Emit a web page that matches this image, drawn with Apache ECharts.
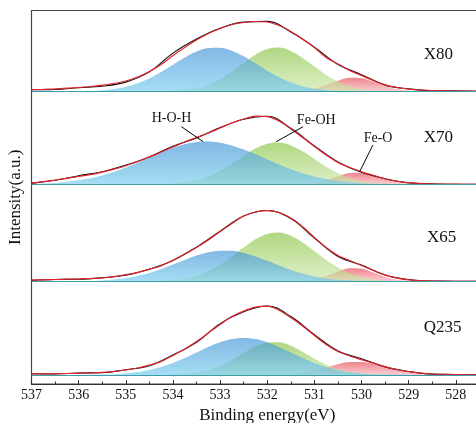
<!DOCTYPE html>
<html>
<head>
<meta charset="utf-8">
<script src="https://cdn.jsdelivr.net/npm/echarts@6/dist/echarts.min.js"></script>
<style>
  html, body { margin: 0; padding: 0; background: #fff; }
  #chart { width: 476px; height: 423px; }
</style>
</head>
<body>
<div id="chart"></div>
<script>
// 结合能 (eV)，拟合曲线和分峰每 0.25 eV 一个点
const energy = [537, 536.75, 536.5, 536.25, 536, 535.75, 535.5, 535.25, 535, 534.75,
  534.5, 534.25, 534, 533.75, 533.5, 533.25, 533, 532.75, 532.5, 532.25,
  532, 531.75, 531.5, 531.25, 531, 530.75, 530.5, 530.25, 530, 529.75,
  529.5, 529.25, 529, 528.75, 528.5, 528.25, 528, 527.75, 527.5, 527.25, 527];
// 原始谱线每 0.5 eV 一个点
const energyRaw = [537, 536.5, 536, 535.5, 535, 534.5, 534, 533.5, 533, 532.5, 532,
  531.5, 531, 530.5, 530, 529.5, 529, 528.5, 528, 527.5, 527];

const samples = ["X80", "X70", "X65", "Q235"];
// 每条谱线的垂直偏移
const offsets = [292.5, 199.5, 102.5, 9];

// X80
const fitX80 = [1.8, 2.2, 2.7, 3.3, 4.0, 5.0, 6.3, 8.0, 10.5, 14.5,
  20, 27, 36, 44, 51.5, 58, 63, 67, 69, 70,
  69.5, 66, 60, 52.5, 44, 34, 27.5, 21, 16, 11,
  6.7, 4, 2.4, 1.5, 1, 0.7, 0.5, 0.4, 0.3, 0.2, 0.2];
const rawX80 = [1.7, 2.0, 3.8, 5.3, 9.4, 19.6, 38.4, 52.5, 63.2, 69.4, 70.1, 59.6, 44.3, 27.1, 16.8, 6.4, 2.6, 0.8, 0.6, 0.2, 0.2];
const hohX80 = [0, 0, 0, 0.1, 0.3, 0.6, 1.3, 2.5, 4.7, 8.2,
  13.1, 19.5, 26.7, 33.9, 39.9, 43.4, 43.7, 40.8, 35.2, 28.2,
  20.8, 14.3, 9.1, 5.3, 2.9, 1.5, 0.7, 0.3, 0.1, 0,
  0, 0, 0, 0, 0, 0, 0, 0, 0, 0, 0];
const feohX80 = [0, 0, 0, 0, 0, 0, 0, 0, 0, 0,
  0.1, 0.2, 0.6, 1.5, 3.4, 6.8, 12.2, 19.7, 28.5, 36.8,
  42.5, 43.9, 40.6, 33.6, 24.9, 16.5, 9.8, 5.2, 2.5, 1.1,
  0.4, 0.1, 0, 0, 0, 0, 0, 0, 0, 0, 0];
const feoX80 = [0, 0, 0, 0, 0, 0, 0, 0, 0, 0,
  0, 0, 0, 0, 0, 0, 0, 0, 0, 0,
  0, 0.1, 0.3, 1.0, 2.9, 6.4, 10.7, 13.7, 13.3, 9.9,
  5.6, 2.4, 0.8, 0.2, 0, 0, 0, 0, 0, 0, 0];

// X70
const fitX70 = [1.2, 2.8, 4.4, 6.2, 8.0, 9.8, 12.3, 15.3, 18.8, 23,
  27.5, 32.5, 37.5, 42.5, 47, 51.5, 56.5, 61.5, 65.5, 68.3,
  67.8, 63.5, 55.5, 47, 38, 29.5, 22, 17, 12.8, 9.2,
  5.5, 3.2, 1.8, 1.0, 0.6, 0.4, 0.3, 0.2, 0.2, 0.1, 0.1];
const rawX70 = [1.4, 4.2, 8.8, 12.7, 19.4, 27.6, 38.3, 46.6, 56.9, 65.2, 68.2, 56.2, 38.6, 22.5, 12.2, 5.8, 1.6, 0.7, 0.2, 0.3, 0.1];
const hohX70 = [0.5, 1.0, 1.6, 2.7, 4.2, 6.3, 9.1, 12.7, 17.1, 21.9,
  27.1, 32.2, 36.8, 40.3, 42.4, 43.0, 41.8, 39.0, 35.0, 30.2,
  25.0, 19.9, 15.2, 11.2, 7.9, 5.4, 3.5, 2.2, 1.3, 0.8,
  0.4, 0.2, 0.1, 0, 0, 0, 0, 0, 0, 0, 0];
const feohX70 = [0, 0, 0, 0, 0, 0, 0, 0, 0, 0,
  0.1, 0.4, 1.0, 2.2, 4.4, 8.1, 13.6, 20.7, 28.6, 35.9,
  40.7, 41.9, 39.1, 33.2, 25.5, 17.7, 11.2, 6.4, 3.3, 1.6,
  0.7, 0.3, 0.1, 0, 0, 0, 0, 0, 0, 0, 0];
const feoX70 = [0, 0, 0, 0, 0, 0, 0, 0, 0, 0,
  0, 0, 0, 0, 0, 0, 0, 0, 0, 0,
  0, 0, 0.1, 0.5, 1.6, 4.2, 8.1, 11.4, 11.7, 8.9,
  4.9, 2.0, 0.6, 0.1, 0, 0, 0, 0, 0, 0, 0];

// X65
const fitX65 = [1.4, 1.7, 2.0, 2.3, 2.6, 3.0, 3.5, 4.8, 6.8, 9.2,
  12.2, 15.8, 21.2, 27.5, 34, 41.5, 50, 58, 65.5, 69.5,
  70.8, 69, 63.5, 54.8, 44, 34, 26, 21, 16, 11.2,
  6.6, 3.3, 1.6, 0.8, 0.4, 0.2, 0.1, 0.1, 0.1, 0.1, 0.1];
const rawX65 = [1.1, 2.0, 2.3, 3.8, 6.2, 12.4, 21.1, 34.4, 50.2, 65.4, 71.0, 63.0, 43.5, 25.1, 16.4, 6.5, 2.0, 0.4, 0.3, 0.1, 0.1];
const hohX65 = [0, 0, 0.1, 0.1, 0.3, 0.5, 1.1, 2.0, 3.4, 5.6,
  8.6, 12.5, 16.9, 21.6, 25.9, 29.2, 30.8, 30.7, 28.6, 25.1,
  20.7, 16.0, 11.6, 7.9, 5.1, 3.1, 1.7, 0.9, 0.5, 0.2,
  0.1, 0, 0, 0, 0, 0, 0, 0, 0, 0, 0];
const feohX65 = [0, 0, 0, 0, 0, 0, 0, 0, 0, 0,
  0.2, 0.6, 1.3, 2.9, 5.7, 10.3, 16.8, 25.1, 34.0, 42.2,
  47.6, 48.9, 45.8, 39.1, 30.4, 21.6, 14.0, 8.2, 4.4, 2.2,
  1.0, 0.4, 0.1, 0, 0, 0, 0, 0, 0, 0, 0];
const feoX65 = [0, 0, 0, 0, 0, 0, 0, 0, 0, 0,
  0, 0, 0, 0, 0, 0, 0, 0, 0, 0,
  0, 0, 0.2, 0.7, 2.3, 5.5, 10.0, 13.2, 12.8, 9.1,
  4.8, 1.8, 0.5, 0.1, 0, 0, 0, 0, 0, 0, 0];

// Q235
const fitQ235 = [1.0, 1.1, 1.3, 1.5, 1.8, 2.1, 2.6, 3.5, 5.0, 7.0,
  9.8, 13.5, 19.5, 26, 33.5, 42, 50.5, 58.5, 64, 67.8,
  68.8, 64.8, 57.5, 49, 39.5, 30.5, 23.5, 19, 15.3, 11.8,
  8.4, 5.5, 3.3, 1.9, 1.0, 0.6, 0.4, 0.3, 0.2, 0.1, 0.1];
const rawQ235 = [1.2, 1.1, 2.0, 2.3, 5.3, 9.2, 19.9, 32.6, 51.4, 63.2, 69.0, 58.5, 40.4, 24.1, 16.3, 8.1, 3.5, 0.9, 0.5, 0.2, 0.1];
const hohQ235 = [0, 0, 0, 0, 0.1, 0.2, 0.4, 0.8, 1.6, 2.9,
  5.0, 8.0, 12.0, 16.9, 22.4, 27.9, 32.7, 35.9, 37.0, 35.9,
  32.7, 27.9, 22.4, 16.9, 12.0, 8.0, 5.0, 2.9, 1.6, 0.8,
  0.4, 0.2, 0.1, 0, 0, 0, 0, 0, 0, 0, 0];
const feohQ235 = [0, 0, 0, 0, 0, 0, 0, 0, 0, 0,
  0, 0.1, 0.4, 1.0, 2.4, 5.0, 9.2, 15.1, 22.0, 28.3,
  32.3, 32.7, 29.3, 23.3, 16.4, 10.3, 5.7, 2.8, 1.2, 0.5,
  0.2, 0.1, 0, 0, 0, 0, 0, 0, 0, 0, 0];
const feoQ235 = [0, 0, 0, 0, 0, 0, 0, 0, 0, 0,
  0, 0, 0, 0, 0, 0, 0, 0, 0, 0,
  0, 0.3, 0.9, 2.1, 4.3, 7.4, 10.7, 12.9, 13.1, 11.2,
  8.1, 4.9, 2.5, 1.1, 0.4, 0.1, 0, 0, 0, 0, 0];

const fits = [fitX80, fitX70, fitX65, fitQ235];
const raws = [rawX80, rawX70, rawX65, rawQ235];
const hohs = [hohX80, hohX70, hohX65, hohQ235];
const feohs = [feohX80, feohX70, feohX65, feohQ235];
const feos = [feoX80, feoX70, feoX65, feoQ235];

const font = "'Liberation Serif', 'Times New Roman', serif";

// 样品名与峰标注（数据坐标）
const sampleLabelPos = [[528.37, 329], [528.37, 246], [528.3, 146], [528.28, 56]];
const peakNotes = [
  { text: "H-O-H", at: [534.03, 265.7], from: [533.82, 257.3], to: [533.36, 242.3] },
  { text: "Fe-OH", at: [530.96, 264], from: [531.24, 257.3], to: [531.81, 242.3] },
  { text: "Fe-O", at: [529.65, 245.7], from: [529.76, 239], to: [530.04, 212.3] },
];

const shift = (xs, arr, base) => arr.map((v, i) => [xs[i], v + base]);

const grad = (top, bottom) =>
  new echarts.graphic.LinearGradient(0, 0, 0, 1, [
    { offset: 0, color: top },
    { offset: 1, color: bottom },
  ]);

const peakSeries = (data, base, top, bottom, extra) =>
  Object.assign(
    {
      type: "line",
      data: data,
      smooth: 0.3,
      symbol: "none",
      silent: true,
      lineStyle: { width: 0 },
      areaStyle: { origin: base, color: grad(top, bottom) },
    },
    extra || {}
  );

const series = [];
samples.forEach((name, k) => {
  const base = offsets[k];
  series.push(peakSeries(shift(energy, feos[k], base), base, "rgba(232,58,72,0.9)", "rgba(246,172,180,0.85)"));
  series.push(peakSeries(shift(energy, feohs[k], base), base, "rgba(132,194,60,0.92)", "rgba(204,230,166,0.9)"));
  series.push(
    peakSeries(shift(energy, hohs[k], base), base, "rgba(64,146,214,0.93)", "rgba(118,204,238,0.95)", {
      markLine: {
        silent: true,
        symbol: "none",
        label: { show: false },
        lineStyle: { color: "#3a9fa8", width: 1, type: "solid" },
        data: [{ yAxis: base }],
      },
    })
  );
  series.push({
    type: "line",
    data: shift(energyRaw, raws[k], base),
    smooth: 0.4,
    symbol: "none",
    silent: true,
    lineStyle: { color: "#111", width: 1.1 },
  });
  const fit = {
    type: "line",
    data: shift(energy, fits[k], base),
    smooth: 0.3,
    symbol: "none",
    silent: true,
    lineStyle: { color: "#e3232d", width: 1.2 },
    markPoint: {
      silent: true,
      symbol: "circle",
      symbolSize: 1,
      itemStyle: { color: "rgba(0,0,0,0)" },
      label: { show: true, position: "inside", color: "#111", fontFamily: font, fontSize: 17 },
      data: [{ coord: sampleLabelPos[k], value: name, label: { formatter: name } }],
    },
  };
  if (name === "X70") {
    peakNotes.forEach((n) => {
      fit.markPoint.data.push({
        coord: n.at,
        value: n.text,
        label: { formatter: n.text, fontSize: 14 },
      });
    });
    fit.markLine = {
      silent: true,
      symbol: ["none", "arrow"],
      symbolSize: [0, 7],
      label: { show: false },
      lineStyle: { color: "#000", width: 1, type: "solid" },
      data: peakNotes.map((n) => [{ coord: n.from }, { coord: n.to }]),
    };
  }
  series.push(fit);
});

const chart = echarts.init(document.getElementById("chart"));
chart.setOption({
  animation: false,
  grid: {
    show: true,
    left: 31.5,
    top: 10.5,
    bottom: 39,
    right: -27,
    outerBoundsMode: "none",
    containLabel: false,
    borderColor: "#444",
    borderWidth: 1,
    backgroundColor: "transparent",
  },
  xAxis: {
    type: "value",
    inverse: true,
    min: 527,
    max: 537,
    interval: 1,
    name: "Binding energy(eV)",
    nameLocation: "middle",
    nameGap: 19,
    nameTextStyle: { fontFamily: font, fontSize: 17, color: "#111" },
    axisLine: { lineStyle: { color: "#333", width: 1.2 } },
    axisTick: { inside: true, length: 4, lineStyle: { color: "#333" } },
    minorTick: { show: true, splitNumber: 2, length: 2.5, lineStyle: { color: "#333" } },
    axisLabel: { fontFamily: font, fontSize: 14, color: "#111", margin: 4 },
    splitLine: { show: false },
  },
  yAxis: {
    type: "value",
    min: 0,
    max: 373.5,
    name: "Intensity(a.u.)",
    nameLocation: "middle",
    nameGap: 7,
    nameTextStyle: { fontFamily: font, fontSize: 17, color: "#111" },
    axisLine: { show: true, lineStyle: { color: "#444", width: 1.2 } },
    axisTick: { show: false },
    axisLabel: { show: false },
    splitLine: { show: false },
  },
  series: series,
});
</script>
</body>
</html>
